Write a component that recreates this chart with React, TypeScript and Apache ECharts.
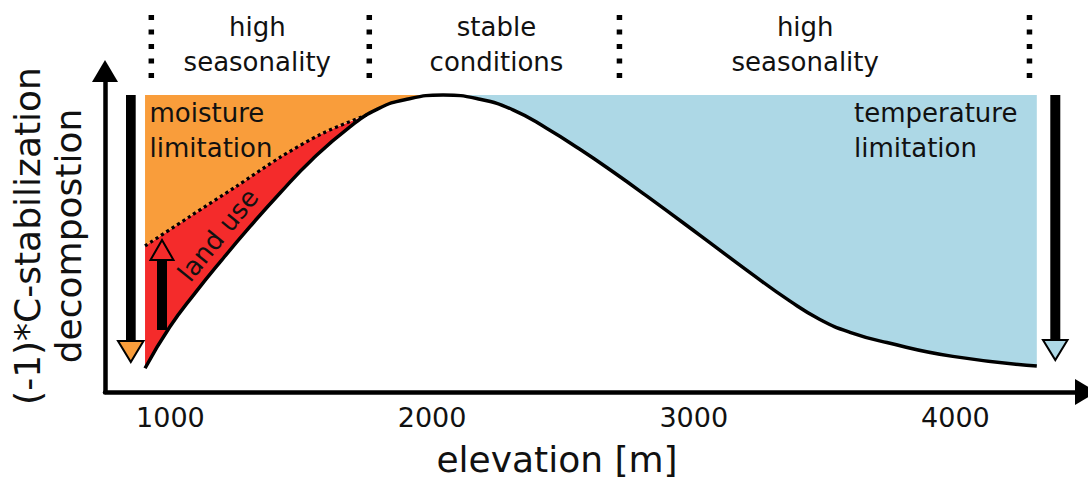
import React, { useEffect, useRef } from 'react';
import * as echarts from 'echarts';

// ---- data ----
const elevation = [903, 998, 1094, 1196, 1304, 1419, 1540, 1686, 1793, 1903, 2042, 2183, 2309, 2439, 2565, 2691, 2821, 3024, 3215, 3368, 3482, 3597, 3738, 3990, 4311];
const response = [7.4, 20.3, 30.8, 41.1, 51.5, 62.0, 72.3, 82.6, 88.2, 91.2, 92.5, 91.2, 87.9, 82.1, 75.6, 68.6, 61.0, 48.8, 37.2, 28.3, 22.6, 18.6, 15.4, 11.1, 8.1];
const peakIndex = 10;
const landUseElevation = [903, 1073, 1251, 1423, 1582, 1750];
const landUseLevel = [45.5, 54.6, 64.0, 73.3, 80.6, 86.3];
const ceiling = 92.5;
const tickValues = [1000, 2000, 3000, 4000];
const zoneBoundaries = [927, 1760, 2716, 4283];
const zoneLabels = ['high\nseasonality', 'stable\nconditions', 'high\nseasonality'];
const zoneCenters = [1332, 2246, 3426];

const ORANGE = '#F99D3B';
const RED = '#F42B2B';
const BLUE = '#ADD8E6';
const FONT = '"DejaVu Sans", sans-serif';
const TXT = '#111';

export default function App() {
  const ref = useRef<HTMLDivElement>(null);
  useEffect(() => {
    const chart = echarts.init(ref.current!, null, { renderer: 'svg' });
    const curve = elevation.map((e, i) => [e, response[i]]);
    const landUse = landUseElevation.map((e, i) => [e, landUseLevel[i]]);
    const orangeEdge = [...landUse, [elevation[peakIndex], response[peakIndex]]];
    const blueEdge = curve.slice(peakIndex);

    chart.setOption({
      animation: false,
      grid: { left: 105, right: 2, top: 71, bottom: 87, containLabel: false },
      xAxis: {
        type: 'value', min: 750, max: 4499, z: 10,
        axisLine: { show: true, onZero: false, lineStyle: { color: '#000', width: 4.5 }, symbol: ['none', 'triangle'], symbolSize: [26, 22] },
        axisTick: { show: false },
        splitLine: { show: false },
        axisLabel: { customValues: tickValues, formatter: (v: number) => String(v), fontSize: 27, fontFamily: FONT, color: TXT, margin: 12 },
      },
      yAxis: {
        type: 'value', min: 0, max: 100, z: 10,
        axisLine: { show: true, onZero: false, lineStyle: { color: '#000', width: 4.5 }, symbol: ['none', 'triangle'], symbolSize: [26, 22] },
        axisTick: { show: false },
        splitLine: { show: false },
        axisLabel: { show: false },
      },
      series: [
        { type: 'line', name: 'land use', data: landUse, smooth: 0.3, symbol: 'none', silent: true,
          lineStyle: { width: 0, opacity: 0 }, areaStyle: { color: RED, opacity: 1, origin: response[0] }, z: 1 },
        { type: 'line', name: 'moisture limitation', data: orangeEdge, smooth: 0.3, symbol: 'none', silent: true,
          lineStyle: { width: 0, opacity: 0 }, areaStyle: { color: ORANGE, opacity: 1, origin: ceiling }, z: 1 },
        { type: 'line', name: 'temperature limitation', data: blueEdge, smooth: true, symbol: 'none', silent: true,
          lineStyle: { width: 0, opacity: 0 }, areaStyle: { color: BLUE, opacity: 1, origin: ceiling }, z: 1 },
        { type: 'line', name: 'decomposition', data: curve, smooth: true, symbol: 'none', silent: true,
          lineStyle: { color: '#000', width: 3.5 }, areaStyle: { color: '#fff', opacity: 1, origin: 0 }, z: 3 },
        { type: 'line', name: 'land use boundary', data: landUse, smooth: 0.3, symbol: 'none', silent: true,
          lineStyle: { color: '#000', width: 3.2, type: [3.2, 3.2] }, z: 4 },
      ],
    });

    const px = (v: number) => chart.convertToPixel({ xAxisIndex: 0 }, v) as number;
    const graphic: any[] = [];
    zoneBoundaries.forEach((b) => {
      const x = px(b);
      graphic.push({ type: 'line', z: 20, shape: { x1: x, y1: 15, x2: x, y2: 80 },
        style: { stroke: '#000', lineWidth: 5.5, lineDash: [5, 9.5] } });
    });
    zoneLabels.forEach((t, i) => {
      graphic.push({ type: 'text', z: 20, x: px(zoneCenters[i]), y: 44.3,
        style: { text: t, fontSize: 26, fontFamily: FONT, fill: TXT, align: 'center', verticalAlign: 'middle', lineHeight: 34.7 } });
    });
    graphic.push({ type: 'text', z: 20, x: 149.5, y: 130.2,
      style: { text: 'moisture\nlimitation', fontSize: 26, fontFamily: FONT, fill: TXT, align: 'left', verticalAlign: 'middle', lineHeight: 35 } });
    graphic.push({ type: 'text', z: 20, x: 854, y: 130.8,
      style: { text: 'temperature\nlimitation', fontSize: 26, fontFamily: FONT, fill: TXT, align: 'left', verticalAlign: 'middle', lineHeight: 35 } });
    graphic.push({ type: 'text', z: 20, x: 218, y: 235, rotation: (51 * Math.PI) / 180,
      style: { text: 'land use', fontSize: 26, fontFamily: FONT, fill: TXT, align: 'center', verticalAlign: 'middle' } });
    graphic.push({ type: 'text', z: 20, x: 48, y: 236, rotation: Math.PI / 2,
      style: { text: '(-1)*C-stabilization\ndecompostion', fontSize: 36, fontFamily: FONT, fill: TXT, align: 'center', verticalAlign: 'middle', lineHeight: 41 } });
    graphic.push({ type: 'text', z: 20, x: 557, y: 459,
      style: { text: 'elevation [m]', fontSize: 36, fontFamily: FONT, fill: TXT, align: 'center', verticalAlign: 'middle' } });
    // annotation arrows
    graphic.push({ type: 'rect', z: 20, shape: { x: 126, y: 95, width: 9.7, height: 247 }, style: { fill: '#000' } });
    graphic.push({ type: 'polygon', z: 21, shape: { points: [[118, 341], [143.5, 341], [130.8, 362]] }, style: { fill: ORANGE, stroke: '#000', lineWidth: 2 } });
    graphic.push({ type: 'rect', z: 20, shape: { x: 1050.3, y: 95, width: 10, height: 246 }, style: { fill: '#000' } });
    graphic.push({ type: 'polygon', z: 21, shape: { points: [[1043, 340], [1067.5, 340], [1055.3, 360]] }, style: { fill: BLUE, stroke: '#000', lineWidth: 2 } });
    graphic.push({ type: 'rect', z: 20, shape: { x: 157, y: 259, width: 10, height: 71 }, style: { fill: '#000' } });
    graphic.push({ type: 'polygon', z: 21, shape: { points: [[150.5, 260], [173.5, 260], [162, 240]] }, style: { fill: RED, stroke: '#000', lineWidth: 2 } });
    chart.setOption({ graphic });

    return () => chart.dispose();
  }, []);
  return <div ref={ref} style={{ position: 'absolute', left: 0, top: 0, width: 1088, height: 479 }} />;
}
